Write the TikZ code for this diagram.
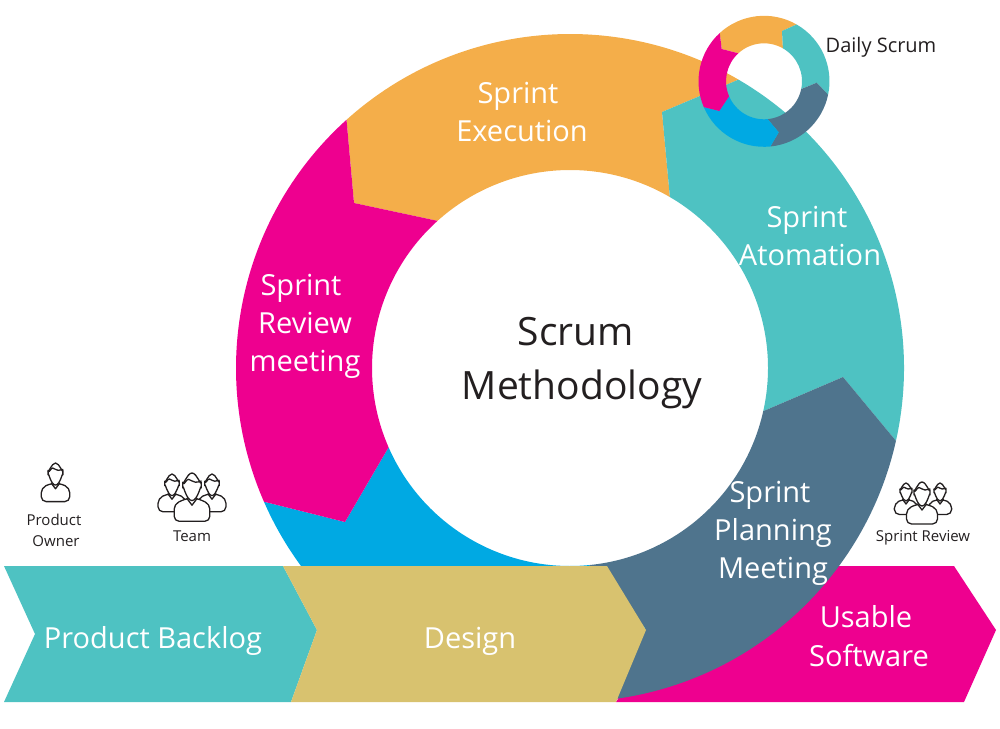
\documentclass[tikz,border=0pt]{standalone}
\usepackage{fontspec}
\setmainfont{Open Sans}
\definecolor{cteal}{HTML}{4EC2C2}
\definecolor{corange}{HTML}{F4AE4A}
\definecolor{cpink}{HTML}{EE008F}
\definecolor{cblue}{HTML}{00A9E3}
\definecolor{cslate}{HTML}{4F748D}
\definecolor{csand}{HTML}{D8C26F}
\definecolor{cink}{HTML}{231F20}
\tikzset{
  lightlabel/.style={text=white,anchor=base,inner sep=0pt,font=\fontsize{29}{32}\selectfont},
  titlelabel/.style={text=cink,anchor=base,inner sep=0pt,font=\fontsize{39}{44}\selectfont},
  smalllabel/.style={text=cink,anchor=base,inner sep=0pt,font=\fontsize{15}{18}\selectfont},
  figure line/.style={draw=cink,fill=white,line width=1.3pt,line join=round,line cap=round},
}
% One ring piece: outer arc a1->a2, tip, inner arc a3->a4, tip.
\newcommand{\ringpiece}[9]{%
  \fill[#9] ({#1+#3*cos(#5)},{#2+#3*sin(#5)})
    arc[start angle=#5,end angle=#6,radius=#3] -- #7
    -- ({#1+#4*cos(#6)},{#2+#4*sin(#6)})
    arc[start angle=#6,end angle=#5,radius=#4] -- #8 -- cycle;}
% A person glyph: head capsule, hair line, shoulders and collar.
\newcommand{\personicon}[3]{%
  \begin{scope}[shift={(#1,#2)},scale=#3]
    \path[figure line,rounded corners=5pt] (-4.5,22) -- (-15.5,27) -- (-15.5,42) -- (15.5,42) -- (15.5,27) -- (4.5,22) -- cycle;
    \draw[figure line] (-4.5,22) -- (0,28) -- (4.5,22);
    \path[figure line] (-8,8) to[out=-90,in=180] (0,0) to[out=0,in=-90] (8,8) -- (8,13)
      to[out=90,in=0] (0,24) to[out=180,in=90] (-8,13) -- cycle;
    \draw[figure line,fill=none] (-8,9) to[out=-50,in=180] (-3,5.5) to[out=0,in=190] (3,8) to[out=10,in=-150] (8,7);
  \end{scope}}
\begin{document}
\begin{tikzpicture}[x=1pt,y=-1pt]
\useasboundingbox (0,0) rectangle (1000,728);
% Output arrow beneath the ring
\fill[cpink] (700,566) -- (954,566) -- (996,630) -- (964,702) -- (616,702) -- cycle;
% Main ring
\ringpiece{570}{368}{334}{198}{228}{300.3}{(662,112)}{(354,203)}{corange}
\ringpiece{570}{368}{334}{198}{300.3}{372.6}{(843,377)}{(662,112)}{cteal}
\ringpiece{570}{368}{334}{198}{12.6}{84.5}{(645,628)}{(843,377)}{cslate}
\ringpiece{570}{368}{334}{198}{84.5}{156.4}{(345,522)}{(645,628)}{cblue}
\ringpiece{570}{368}{334}{198}{156.4}{228}{(354,203)}{(345,522)}{cpink}
% Process arrows in front of the ring
\fill[cteal] (4,566) -- (283,566) -- (317,630) -- (291,702) -- (4,702) -- (35,634) -- cycle;
\fill[csand] (283,566) -- (607,566) -- (646,630) -- (616,702) -- (291,702) -- (317,630) -- cycle;
% Small daily ring
\ringpiece{764}{81.3}{65.5}{38}{227.5}{299.8}{(782,31)}{(721.7,49)}{corange}
\ringpiece{764}{81.3}{65.5}{38}{299.8}{371.8}{(816.7,82.7)}{(782,31)}{cteal}
\ringpiece{764}{81.3}{65.5}{38}{11.8}{84.4}{(778.7,132.3)}{(816.7,82.7)}{cslate}
\ringpiece{764}{81.3}{65.5}{38}{84.4}{156.8}{(719.3,111)}{(778.7,132.3)}{cblue}
\ringpiece{764}{81.3}{65.5}{38}{156.8}{227.5}{(721.7,49)}{(719.3,111)}{cpink}
% Ring labels
\node[lightlabel] (exA) at (518,103) {Sprint};
\node[lightlabel] (exB) at (522,141) {Execution};
\node[lightlabel] (atA) at (807,227) {Sprint};
\node[lightlabel] (atB) at (810,265) {Atomation};
\node[lightlabel] (reA) at (301,295) {Sprint};
\node[lightlabel] (reB) at (305,333) {Review};
\node[lightlabel] (reC) at (305,371) {meeting};
\node[lightlabel] (plA) at (770,502) {Sprint};
\node[lightlabel] (plB) at (773,540) {Planning};
\node[lightlabel] (plC) at (773,578) {Meeting};
\node[titlelabel] (tiA) at (576,345) {Scrum};
\node[titlelabel] (tiB) at (582,399) {Methodology};
% Arrow labels
\node[lightlabel] (backlog) at (153,648) {Product Backlog};
\node[lightlabel] (design) at (470,648) {Design};
\node[lightlabel] (usable) at (866,627) {Usable};
\node[lightlabel] (software) at (869,666) {Software};
% Role figures
\personicon{55.5}{463}{0.92}
\personicon{172}{474}{0.9}
\personicon{212}{474}{0.9}
\personicon{192}{473}{1.15}
\personicon{906}{483}{0.75}
\personicon{940}{483}{0.75}
\personicon{922}{482}{1.0}
\node[smalllabel] (ownerA) at (54,525) {Product};
\node[smalllabel] (ownerB) at (56,546) {Owner};
\node[smalllabel] (team) at (192,541) {Team};
\node[smalllabel] (review) at (923,541) {Sprint Review};
\node[text=cink,anchor=base,inner sep=0pt,font=\fontsize{20}{24}\selectfont] (daily) at (881,52) {Daily Scrum};
\end{tikzpicture}
\end{document}
